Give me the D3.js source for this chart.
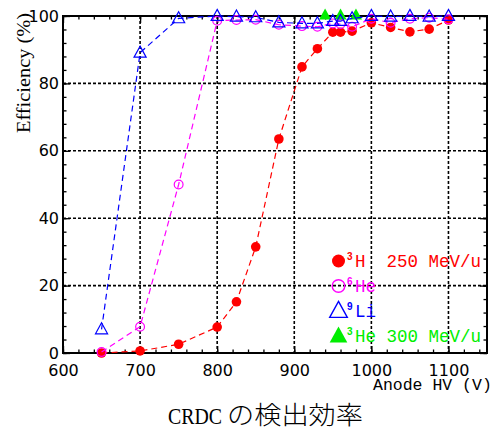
<!DOCTYPE html>
<html><head><meta charset="utf-8">
<script src="https://cdn.jsdelivr.net/npm/d3@7"></script>
<style>body{margin:0;background:#fff}svg{display:block}</style>
</head><body>
<svg id="c" width="494" height="430"></svg>
<script>
// ---- data ----
const hvH3 = [650, 700, 750, 800, 825, 850, 880, 910, 930, 950, 960, 975, 1000, 1025, 1050, 1075, 1100];
const effH3 = [0, 0.6, 2.6, 7.7, 15.2, 31.5, 63.5, 84.9, 90.3, 95.2, 95.2, 95.5, 98.0, 96.6, 95.3, 96.1, 98.8];
const hvHe6 = [650, 700, 750, 800, 825, 850, 880, 910, 930, 950, 960, 975, 1000, 1025, 1050, 1075, 1100];
const effHe6 = [0.3, 7.8, 50.0, 98.6, 98.8, 98.9, 97.4, 97.0, 96.8, 97.8, 97.6, 96.8, 99.2, 98.0, 99.2, 99.5, 99.0];
const hvLi9 = [650, 700, 750, 800, 825, 850, 880, 910, 930, 950, 960, 975, 1000, 1025, 1050, 1075, 1100];
const effLi9 = [7.0, 89.1, 99.3, 100, 99.8, 99.6, 98.1, 97.8, 97.8, 98.5, 98.5, 99.3, 100, 99.8, 100, 99.8, 100];
const hvHe3 = [940, 960, 980];
const effHe3 = [100.3, 100.3, 100.3];
const xTicks = [600, 700, 800, 900, 1000, 1100];
const yTicks = [0, 20, 40, 60, 80, 100];
const legendLabels = [
  {sup: "3", main: "H  250 MeV/u"},
  {sup: "6", main: "He"},
  {sup: "9", main: "Li"},
  {sup: "3", main: "He 300 MeV/u"}
];

// ---- layout ----
const svg = d3.select("#c");
const L = 63, R = 487, T = 16, B = 353;
const x = d3.scaleLinear().domain([600, 1150]).range([L, R]);
const y = d3.scaleLinear().domain([0, 100]).range([B, T]);
const RED = "#ff0000", MAG = "#ff00ff", BLUE = "#0000ff", GREEN = "#00ee00";

// grid
const grid = svg.append("g").attr("stroke", "#000").attr("stroke-width", 1.6).attr("stroke-dasharray", "3,2");
xTicks.filter(v => v > 600).forEach(v => grid.append("line").attr("x1", x(v)).attr("x2", x(v)).attr("y1", T).attr("y2", B));
yTicks.filter(v => v > 0 && v < 100).forEach(v => grid.append("line").attr("y1", y(v)).attr("y2", y(v)).attr("x1", L).attr("x2", R));

// axes
const minorX = d3.range(600, 1151, 20);
const minorY = d3.range(0, 101, 4);
function styleAxis(g) { g.select(".domain").remove(); g.selectAll("line").attr("stroke", "#000").attr("stroke-width", 1.3); }
svg.append("g").attr("transform", `translate(0,${B})`)
  .call(d3.axisBottom(x).tickValues(minorX).tickSize(-3.5).tickFormat("")).call(styleAxis);
svg.append("g").attr("transform", `translate(0,${B})`)
  .call(d3.axisBottom(x).tickValues(xTicks).tickSizeInner(-7).tickSizeOuter(0).tickPadding(12).tickFormat(d3.format("d")))
  .call(styleAxis)
  .selectAll("text").attr("font-family", "DejaVu Sans").attr("font-size", 16).attr("fill", "#000");
svg.append("g").attr("transform", `translate(0,${T})`)
  .call(d3.axisTop(x).tickValues(minorX).tickSize(-3.5).tickFormat("")).call(styleAxis);
svg.append("g").attr("transform", `translate(0,${T})`)
  .call(d3.axisTop(x).tickValues(xTicks).tickSize(-7).tickFormat("")).call(styleAxis);
svg.append("g").attr("transform", `translate(${L},0)`)
  .call(d3.axisLeft(y).tickValues(minorY).tickSize(-3.5).tickFormat("")).call(styleAxis);
svg.append("g").attr("transform", `translate(${L},0)`)
  .call(d3.axisLeft(y).tickValues(yTicks).tickSizeInner(-7).tickSizeOuter(0).tickPadding(4).tickFormat(d3.format("d")))
  .call(styleAxis)
  .selectAll("text").attr("font-family", "DejaVu Sans").attr("font-size", 16).attr("fill", "#000");
svg.append("g").attr("transform", `translate(${R},0)`)
  .call(d3.axisRight(y).tickValues(minorY).tickSize(-3.5).tickFormat("")).call(styleAxis);
svg.append("g").attr("transform", `translate(${R},0)`)
  .call(d3.axisRight(y).tickValues(yTicks).tickSize(-7).tickFormat("")).call(styleAxis);

// frame
svg.append("rect").attr("x", L).attr("y", T).attr("width", R - L).attr("height", B - T)
  .attr("fill", "none").attr("stroke", "#000").attr("stroke-width", 2);

// symbols
const tri = (s) => `M0,${-s*0.6}L${s*0.55},${s*0.4}L${-s*0.55},${s*0.4}Z`;
function series(xs, ys, color, kind, withLine) {
  const pts = xs.map((v, i) => [v, ys[i]]);
  const g = svg.append("g");
  if (withLine) {
    g.append("path").datum(pts)
      .attr("d", d3.line().x(d => x(d[0])).y(d => y(d[1])))
      .attr("fill", "none").attr("stroke", color).attr("stroke-width", 1.2).attr("stroke-dasharray", "6,4");
  }
  pts.forEach(d => {
    if (kind === "dot") g.append("circle").attr("cx", x(d[0])).attr("cy", y(d[1])).attr("r", 4.8).attr("fill", color);
    if (kind === "ring") g.append("circle").attr("cx", x(d[0])).attr("cy", y(d[1])).attr("r", 4.4).attr("fill", "none").attr("stroke", color).attr("stroke-width", 1.2);
    if (kind === "tri") g.append("path").attr("transform", `translate(${x(d[0])},${y(d[1])})`).attr("d", tri(11)).attr("fill", "none").attr("stroke", color).attr("stroke-width", 1.2);
    if (kind === "ftri") g.append("path").attr("transform", `translate(${x(d[0])},${y(d[1])})`).attr("d", tri(11)).attr("fill", color);
  });
}
series(hvH3, effH3, RED, "dot", true);
series(hvHe6, effHe6, MAG, "ring", true);
series(hvHe3, effHe3, GREEN, "ftri", false);
series(hvLi9, effLi9, BLUE, "tri", true);

// legend
const legColors = [RED, MAG, BLUE, GREEN];
const legKinds = ["dot", "ring", "tri", "ftri"];
const legY = [261, 286, 311, 336];
legendLabels.forEach((lab, i) => {
  const cx = 338.5, cy = legY[i], c = legColors[i], k = legKinds[i];
  if (k === "dot") svg.append("circle").attr("cx", cx).attr("cy", cy).attr("r", 6.5).attr("fill", c);
  if (k === "ring") svg.append("circle").attr("cx", cx).attr("cy", cy).attr("r", 6.3).attr("fill", "none").attr("stroke", c).attr("stroke-width", 1.4);
  if (k === "tri") svg.append("path").attr("transform", `translate(${cx},${cy})`).attr("d", tri(16)).attr("fill", "none").attr("stroke", c).attr("stroke-width", 1.4);
  if (k === "ftri") svg.append("path").attr("transform", `translate(${cx},${cy})`).attr("d", tri(16)).attr("fill", c);
  svg.append("text").attr("x", 347).attr("y", cy - 1).attr("font-family", "Liberation Sans").attr("font-weight", "bold")
    .attr("font-size", 10).attr("fill", c).text(lab.sup);
  svg.append("text").attr("x", 355).attr("y", cy + 6).attr("font-family", "Liberation Mono").attr("font-size", 17.5)
    .attr("fill", c).attr("xml:space", "preserve").style("white-space", "pre").text(lab.main);
});

// axis titles
svg.append("text").attr("x", 373).attr("y", 390).attr("font-family", "Liberation Mono").attr("font-size", 16.5)
  .attr("fill", "#000").style("white-space", "pre").text("Anode HV (V)");
svg.append("text").attr("transform", "translate(30,13) rotate(-90)").attr("text-anchor", "end")
  .attr("font-family", "Liberation Serif").attr("font-size", 18).attr("fill", "#000")
  .attr("textLength", 120).attr("lengthAdjust", "spacingAndGlyphs").text("Efficiency (%)");

// caption
svg.append("text").attr("x", 168).attr("y", 424).attr("font-family", "Liberation Serif").attr("font-size", 23)
  .attr("fill", "#000").attr("textLength", 54).attr("lengthAdjust", "spacingAndGlyphs").text("CRDC");
svg.append("text").attr("x", 227).attr("y", 424).attr("font-family", "Noto Sans CJK JP").attr("font-size", 25)
  .attr("font-weight", 300).attr("fill", "#000").attr("textLength", 136).attr("lengthAdjust", "spacingAndGlyphs").text("の検出効率");
</script>
</body></html>
